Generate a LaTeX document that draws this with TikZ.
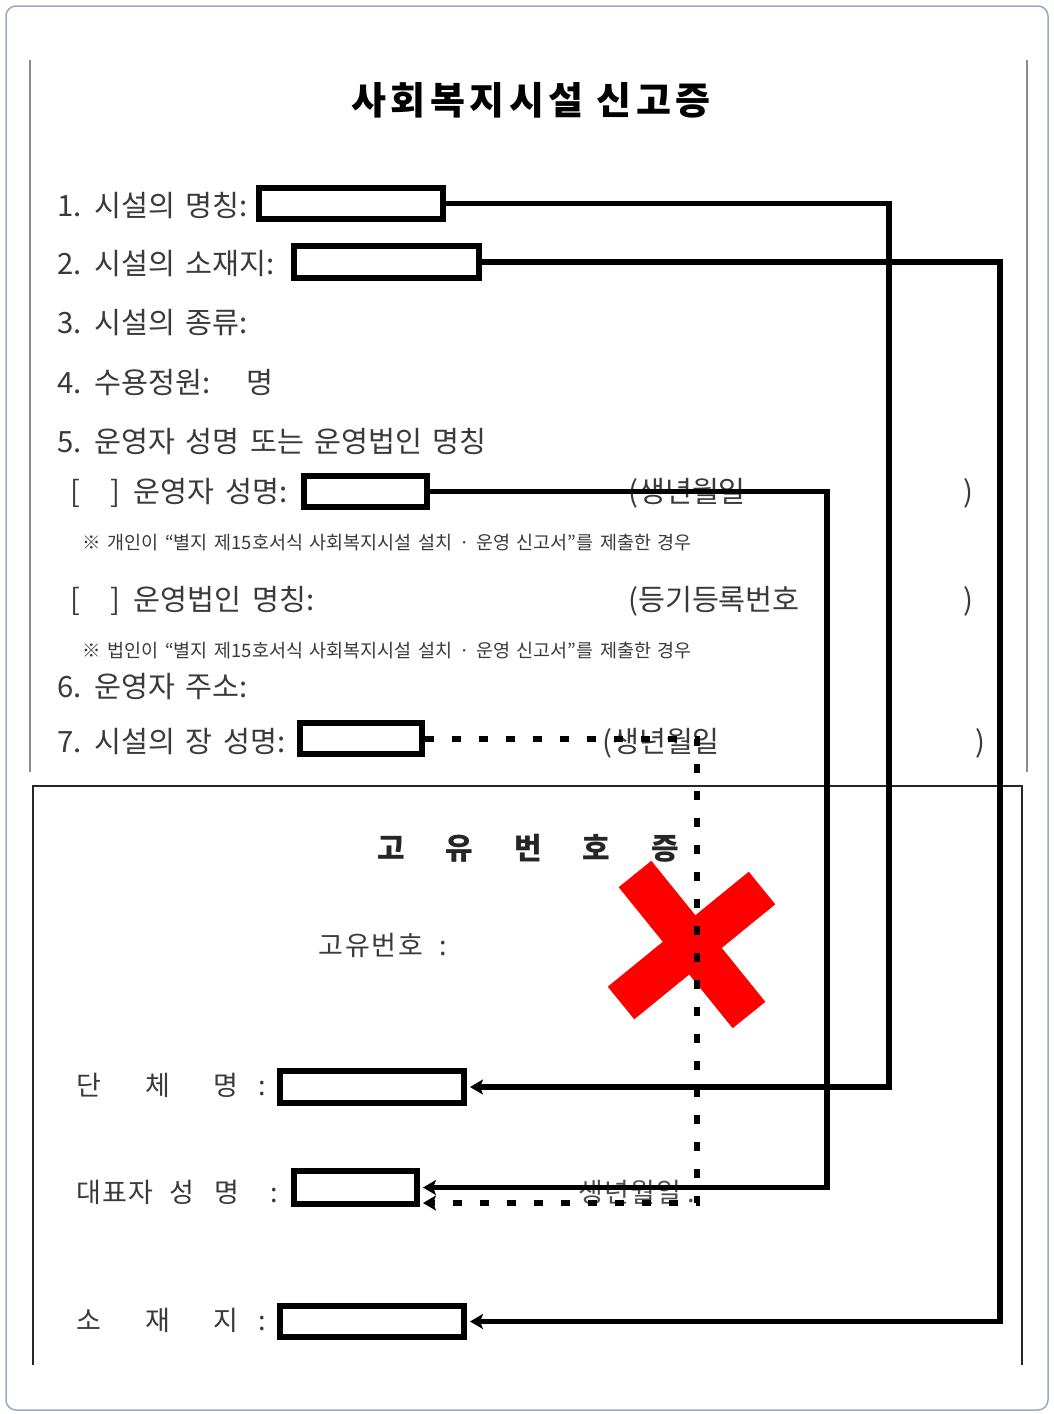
\documentclass[tikz,border=0pt]{standalone}
\usepackage{fontspec}
\usetikzlibrary{arrows.meta}
\newfontfamily\kr{Noto Sans CJK KR}[WordSpace=2.3]
\newfontfamily\krn{Noto Sans CJK KR}[WordSpace=1.6]
\newfontfamily\krl{Noto Sans CJK KR}[LetterSpace=5]
\newfontfamily\krt{Noto Sans CJK KR}[LetterSpace=12]
\definecolor{txt}{HTML}{3A3A3A}
\definecolor{framec}{RGB}{150,170,195}
\tikzset{
  lbl/.style={anchor=west, inner sep=0pt, text=txt, font=\kr\fontsize{29.3}{31}\selectfont, text height=24pt, text depth=2pt},
  note/.style={anchor=west, inner sep=0pt, text=txt, font=\krn\fontsize{18.5}{20}\selectfont, text height=15.5pt, text depth=1.5pt},
  low/.style={anchor=west, inner sep=0pt, text=txt, font=\krl\fontsize{27}{29}\selectfont, text height=22.5pt, text depth=2pt},
  field/.style={draw=black, line width=6pt, fill=white, inner sep=0pt},
  conn/.style={line width=5.5pt, line join=miter, -{Stealth[length=13pt,width=15pt,inset=3pt]}},
  dots/.style={line width=6pt, dash pattern=on 9pt off 18pt, -{Stealth[length=13pt,width=15pt,inset=3pt]}},
  redx/.style={draw=red, line width=42pt},
  guide/.style={draw=black!45, line width=2.5pt},
  panel/.style={draw=black!85, line width=1.6pt}
}
\begin{document}
\begin{tikzpicture}[x=1pt,y=-1pt]
\useasboundingbox (0,0) rectangle (1053,1414);
\fill[white] (0,0) rectangle (1053,1414);
% outer frame
\draw[framec, line width=1.5pt, rounded corners=10pt] (6,6) rectangle (1048,1410);
% guide lines of the upper form
\draw[guide] (30,60) -- (30,772);
\draw[guide] (1027,60) -- (1027,772);
% lower panel
\draw[panel] (33,1365) -- (33,786) -- (1022,786) -- (1022,1365);

% title
\node[inner sep=0pt, font=\krt\bfseries\fontsize{38}{41}\selectfont] (title) at (531,100) {사회복지시설 신고증};

% upper form texts
\node[lbl] (t1) at (57,205) {1. 시설의 명칭:};
\node[lbl] (t2) at (57,263) {2. 시설의 소재지:};
\node[lbl] (t3) at (57,322) {3. 시설의 종류:};
\node[lbl] (t4) at (57,382) {4. 수용정원:\hspace{36pt}명};
\node[lbl] (t5) at (57,441) {5. 운영자 성명 또는 운영법인 명칭};
\node[lbl] (t6) at (70,491) {[\hspace{30pt}]\hspace{14pt}운영자 성명:};
\node[lbl] (t6b) at (628,491) {(생년월일};
\node[lbl] (t6c) at (963,491) {)};
\node[note] (n1) at (82,542) {※ 개인이 “별지 제15호서식 사회복지시설 설치 · 운영 신고서”를 제출한 경우};
\node[lbl] (t7) at (70,599) {[\hspace{30pt}]\hspace{14pt}운영법인 명칭:};
\node[lbl] (t7b) at (628,599) {(등기등록번호};
\node[lbl] (t7c) at (963,599) {)};
\node[note] (n2) at (82,650) {※ 법인이 “별지 제15호서식 사회복지시설 설치 · 운영 신고서”를 제출한 경우};
\node[lbl] (t8) at (57,686) {6. 운영자 주소:};
\node[lbl] (t9) at (57,741) {7. 시설의 장 성명:};
\node[lbl] (t9b) at (602,741) {(생년월일};
\node[lbl] (t9c) at (975,741) {)};

% lower panel texts
\node[inner sep=0pt, text=black!85, font=\kr\bfseries\fontsize{30}{32}\selectfont] (lt) at (528,848) {고\hspace{41pt}유\hspace{41pt}번\hspace{41pt}호\hspace{41pt}증};
\node[low] (l0) at (318,945) {고\hspace{2pt}유\hspace{2pt}번\hspace{2pt}호\hspace{16pt}:};
\node[low] (l1) at (76,1085) {단\hspace{44pt}체\hspace{44pt}명\hspace{20pt}:};
\node[low] (l2) at (76,1192) {대표자\hspace{16pt}성\hspace{20pt}명\hspace{31pt}:};
\node[low] (l3) at (76,1320) {소\hspace{44pt}재\hspace{44pt}지\hspace{20pt}:};
\node[low, text=black!70] (l2b) at (578,1192) {생년월일\hspace{6pt}.};

% field boxes
\node[field, minimum width=184pt, minimum height=31pt] (b1) at (351,203.5) {};
\node[field, minimum width=185pt, minimum height=32pt] (b2) at (386.5,262) {};
\node[field, minimum width=123pt, minimum height=31pt] (b3) at (365.5,491.5) {};
\node[field, minimum width=122pt, minimum height=31pt] (b4) at (361,738.5) {};
\node[field, minimum width=184pt, minimum height=32pt] (b5) at (372,1087) {};
\node[field, minimum width=123pt, minimum height=33pt] (b6) at (355.5,1187.5) {};
\node[field, minimum width=184pt, minimum height=31pt] (b7) at (372,1321.5) {};

% red cross
\draw[redx] (635,874) -- (749,1015);
\draw[redx] (762,888) -- (621,1003);

% connector routing coordinates
\coordinate (xA) at (889,0);
\coordinate (xB) at (1000,0);
\coordinate (xC) at (827,0);
\coordinate (xD) at (697,0);
\coordinate (yD) at (0,1203);
\coordinate (b5e) at ([xshift=3pt]b5.east);
\coordinate (b6e) at ([xshift=3pt]b6.east);
\coordinate (b7e) at ([xshift=3pt]b7.east);

% connectors
\draw[conn] (b1.east) -- (b1.east -| xA) -- (b5e -| xA) -- (b5e);
\draw[conn] (b2.east) -- (b2.east -| xB) -- (b7e -| xB) -- (b7e);
\draw[conn] (b3.east) -- (b3.east -| xC) -- (b6e -| xC) -- (b6e);
\draw[dots] (b4.east) -- (b4.east -| xD) -- (xD |- yD) -- (b6e |- yD);
\end{tikzpicture}
\end{document}
